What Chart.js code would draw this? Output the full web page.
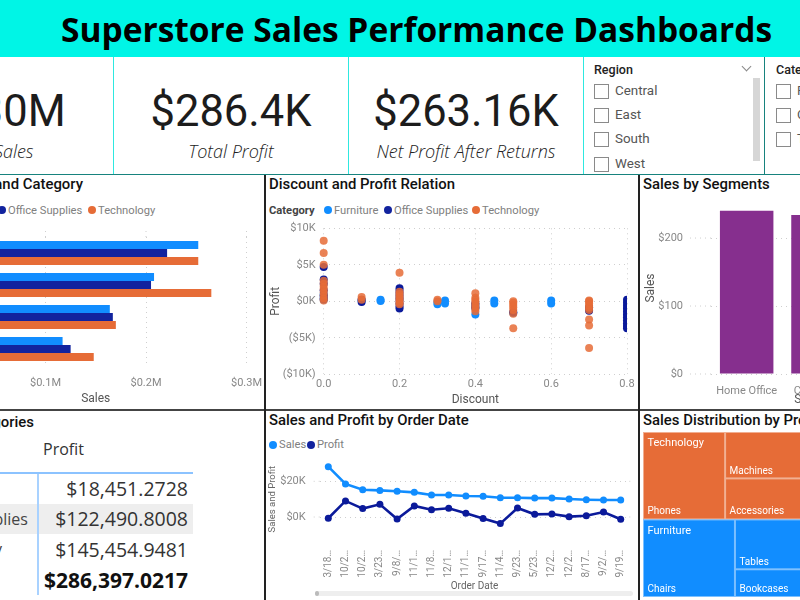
<!DOCTYPE html>
<html>
<head>
<meta charset="utf-8">
<script src="https://cdn.jsdelivr.net/npm/chart.js@4"></script>
<style>
html, body { margin: 0; padding: 0; background: #fff; }
#page { position: relative; width: 800px; height: 600px; overflow: hidden; background: #fff; font-family: Roboto, sans-serif; }
#page div, #page canvas, #page table { position: absolute; }
#page div { white-space: nowrap; }
.rule { background: #222; }
.cy { background: #2ee8e0; }
.title { font-size: 14.9px; font-weight: 500; color: #111; line-height: 18px; }
.kpi { font-size: 43.5px; color: #1c1c1c; line-height: 50px; text-align: center; }
.kpiLabel { font-family: "Open Sans", sans-serif; font-style: italic; font-weight: 300; font-size: 18px; color: #222; line-height: 22px; text-align: center; }
.dot { border-radius: 50%; width: 8px; height: 8px; }
.lg { font-size: 11.2px; color: #808080; line-height: 14px; }
.box { width: 13px; height: 13px; border: 1px solid #8a8a8a; }
.sl { font-size: 13.4px; color: #555; line-height: 18px; }
table { border-collapse: collapse; font-family: "Open Sans", sans-serif; }
td { padding: 0; height: 30.3px; }
td.n { font-size: 16px; color: #444; width: 120px; padding-left: 0; }
td.v { font-size: 19.5px; color: #333; width: 149px; text-align: right; padding-right: 5px; border-left: 2px solid #a9d2ff; }
</style>
</head>
<body>
<div id="page"></div>
<script>
// values
const categories = ['Furniture', 'Office Supplies', 'Technology'];
const catColors = ['#118DFF', '#12239E', '#E66C37'];

// sales by region and category (in $M)
const regions = ['West', 'East', 'Central', 'South'];
const furnitureSales = [0.252, 0.208, 0.164, 0.117];
const officeSales = [0.221, 0.205, 0.167, 0.125];
const techSales = [0.252, 0.265, 0.170, 0.148];
const salesTicks = [0, 0.1, 0.2, 0.3];

// discount / profit scatter
const furnDiscount = [0, 0, 0, 0.1, 0.15, 0.15, 0.3, 0.3, 0.32, 0.32, 0.4, 0.4, 0.4, 0.45, 0.45, 0.5, 0.6, 0.6];
const furnProfit = [200, 600, 1000, 100, 50, 200, -100, -400, 100, -300, -500, -1000, -1800, 100, -300, -1600, 100, -300];
const officeDiscount = [0, 0, 0, 0, 0, 0, 0.1, 0.1, 0.2, 0.2, 0.2, 0.2, 0.2, 0.2, 0.2, 0.2, 0.4, 0.4, 0.5, 0.7, 0.7, 0.8, 0.8, 0.8, 0.8, 0.8, 0.8, 0.8, 0.8, 0.8, 0.8, 0.8];
const officeProfit = [4700, 3000, 2400, 1500, 800, 300, -100, 200, 1800, 1400, 1000, 600, 200, -300, -700, -1000, -300, -800, -1500, -800, -1300, 200, -200, -600, -1000, -1400, -1800, -2200, -2600, -3000, -3400, -3700];
const techDiscount = [0, 0, 0, 0, 0, 0, 0, 0, 0, 0, 0, 0.1, 0.1, 0.2, 0.2, 0.2, 0.2, 0.2, 0.2, 0.2, 0.2, 0.3, 0.3, 0.4, 0.4, 0.4, 0.4, 0.4, 0.4, 0.4, 0.4, 0.5, 0.5, 0.5, 0.5, 0.5, 0.5, 0.5, 0.7, 0.7, 0.7, 0.7, 0.7, 0.7, 0.7, 0.7, 0.7];
const techProfit = [8300, 6600, 5000, 2800, 2400, 2000, 1600, 1200, 800, 400, 100, 600, 200, 3900, 1300, 1000, 700, 400, 100, -200, -400, 200, 0, 1100, 500, 200, -100, -400, -700, -1000, -1350, -3700, -1700, -1200, -800, -500, -200, 0, -6400, -3300, -2500, -1200, -900, -600, -300, 0, 100];
const profitTicks = [-10000, -5000, 0, 5000, 10000];

// sales by segment
const segments = ['Home Office', 'Corporate', 'Consumer'];
const segmentSales = [240, 234, 228];
const segmentTicks = [0, 100, 200];

// sales and profit by order date
const orderDates = ['3/18…', '10/2…', '10/2…', '3/23…', '9/8/…', '11/1…', '11/8…', '12/1…', '11/1…', '9/17…', '11/4…', '9/23…', '5/23…', '12/2…', '12/2…', '8/17…', '9/2/…', '9/19…'];
const dateSales = [28200, 18500, 15300, 14900, 14400, 13800, 12300, 12300, 11800, 11600, 10800, 10800, 10600, 10600, 10100, 9700, 9500, 9500];
const dateProfit = [-700, 9000, 4700, 7100, -1100, 6200, 4100, 4900, 2100, -900, -3700, 5000, 1500, 1700, 200, 700, 2800, -1300];

// treemap ($K)
const treeGroups = ['Technology', 'Furniture'];
const techTiles = ['Phones', 'Machines', 'Accessories', 'Copiers'];
const techTileValues = [330, 189, 167, 150];
const furnTiles = ['Chairs', 'Tables', 'Bookcases', 'Furnishings'];
const furnTileValues = [328, 207, 115, 92];

// table
const tableRows = ['Furniture', 'Office Supplies', 'Technology'];
const tableProfit = ['$18,451.2728', '$122,490.8008', '$145,454.9481'];
const tableTotal = '$286,397.0217';

// cards and slicers
const kpiValues = ['$2.30M', '$286.4K', '$263.16K'];
const kpiLabels = ['Total Sales', 'Total Profit', 'Net Profit After Returns'];
const regionItems = ['Central', 'East', 'South', 'West'];

Chart.defaults.font.family = 'Roboto, sans-serif';
Chart.defaults.animation = false;
Chart.defaults.responsive = false;

const page = document.getElementById('page');

function put(cls, text, css) {
  const d = document.createElement('div');
  d.className = cls;
  if (text) d.textContent = text;
  d.style.cssText = css;
  page.appendChild(d);
  return d;
}

function canvas(left, top, w, h) {
  const c = document.createElement('canvas');
  c.width = w; c.height = h;
  c.style.cssText = `left:${left}px;top:${top}px;width:${w}px;height:${h}px;`;
  page.appendChild(c);
  return c;
}

function legend(items, colors, y) {
  items.forEach((it, i) => {
    put('dot', '', `left:${it[0]}px;top:${y - 4}px;background:${colors[i]};`);
    put('lg', it[1], `left:${it[0] + 10}px;top:${y - 6.5}px;`);
  });
}

const gridColor = '#cfcfcf';
const tickGray = '#888';
const dotted = { color: gridColor, drawTicks: false };
const noGridBorder = { display: false, dash: [1, 4] };
const hidden = { display: false };
const tickFont = { size: 11 };
const axisTitle = (text, pad) => ({ display: true, text, color: '#555', font: { size: 12 }, padding: pad });
// tick labels shouldn't push the plot area around
const noScalePad = s => { s.paddingLeft = 0; s.paddingRight = 0; s.paddingTop = 0; s.paddingBottom = 0; };

// dotted grid lines in Power BI run a bit past the plot area
const extendGrid = {
  id: 'extendGrid',
  beforeDatasetsDraw(chart, args, opts) {
    const a = chart.chartArea, ctx = chart.ctx;
    ctx.save();
    ctx.strokeStyle = gridColor;
    ctx.setLineDash([1, 4]);
    ctx.beginPath();
    chart.scales[opts.axis].ticks.forEach(t => {
      const p = chart.scales[opts.axis].getPixelForValue(t.value);
      if (opts.axis === 'x') { ctx.moveTo(p, a.top); ctx.lineTo(p, a.top - opts.before); }
      else { ctx.moveTo(a.left, p); ctx.lineTo(a.left - opts.before, p); ctx.moveTo(a.right, p); ctx.lineTo(a.right + opts.after, p); }
    });
    ctx.stroke();
    ctx.restore();
  }
};

// panel frame
put('', '', 'left:0;top:0;width:800px;height:57px;background:#00F5E6;');
put('', 'Superstore Sales Performance Dashboards', 'left:61px;top:6px;font-family:"Open Sans",sans-serif;font-weight:700;font-size:33.5px;line-height:46px;color:#000;');
put('rule', '', 'left:0;top:174px;width:800px;height:1px;background:#17837e;');
put('rule', '', 'left:0;top:409px;width:800px;height:1.5px;background:#444;');
put('rule', '', 'left:264px;top:175px;width:1.5px;height:425px;');
put('rule', '', 'left:638px;top:175px;width:1.5px;height:425px;');
[113, 348, 583].forEach(x => put('cy', '', `left:${x}px;top:57px;width:1.2px;height:117px;`));
put('rule', '', 'left:764px;top:57px;width:1.2px;height:117px;background:#17837e;');

// KPI cards
const kpiBoxes = [[-125, 234], [114, 234], [349, 234]];
kpiValues.forEach((v, i) => {
  put('kpi', v, `left:${kpiBoxes[i][0]}px;width:${kpiBoxes[i][1]}px;top:87px;`);
  put('kpiLabel', kpiLabels[i], `left:${kpiBoxes[i][0]}px;width:${kpiBoxes[i][1]}px;top:140px;`);
});

// slicers
put('', 'Region', 'left:594px;top:62px;font-size:12.5px;font-weight:500;color:#222;line-height:15px;');
put('', 'Category', 'left:776px;top:62px;font-size:12.5px;font-weight:500;color:#222;line-height:15px;');
put('', '', 'left:743px;top:63px;width:6px;height:6px;border-right:1px solid #888;border-bottom:1px solid #888;transform:rotate(45deg);');
put('', '', 'left:753px;top:78px;width:7px;height:83px;background:#d6d6d6;');
regionItems.forEach((t, i) => {
  const y = [91, 115, 139, 164][i];
  put('box', '', `left:594px;top:${y - 7}px;`);
  put('sl', t, `left:615px;top:${y - 9}px;`);
});
categories.forEach((t, i) => {
  const y = [91, 115, 139][i];
  put('box', '', `left:776px;top:${y - 7}px;`);
  put('sl', t, `left:797px;top:${y - 9}px;`);
});

// panel titles and legends
put('title', 'Sales by Region and Category', 'right:717px;top:175px;');
put('title', 'Discount and Profit Relation', 'left:269px;top:175px;');
put('title', 'Sales by Segments', 'left:643px;top:175px;');
put('title', 'Sales and Profit by Order Date', 'left:269px;top:411px;');
put('title', 'Sales Distribution by Product', 'left:643px;top:411px;');
put('title', 'Profit by Categories', 'right:766px;top:413px;');

legend([[-84, categories[0]], [-2, categories[1]], [88, categories[2]]], catColors, 210);
put('lg', 'Category', 'left:269px;top:203.5px;font-weight:700;color:#444;');
legend([[324, categories[0]], [384, categories[1]], [472, categories[2]]], catColors, 210);
legend([[269, 'Sales'], [307, 'Profit']], ['#118DFF', '#12239E'], 444.5);
put('', '', 'left:315px;top:591px;width:318px;height:5px;background:#eee;border-radius:3px;');
put('', '', 'left:315px;top:591px;width:4px;height:5px;background:#bbb;border-radius:2px;');

// sales by region and category
new Chart(canvas(-100, 176, 363, 233), {
  type: 'bar',
  data: {
    labels: regions,
    datasets: [
      { label: categories[0], data: furnitureSales, backgroundColor: catColors[0] },
      { label: categories[1], data: officeSales, backgroundColor: catColors[1] },
      { label: categories[2], data: techSales, backgroundColor: catColors[2] }
    ]
  },
  plugins: [extendGrid],
  options: {
    indexAxis: 'y',
    layout: { padding: { top: 61, right: 16.5 } },
    datasets: { bar: { categoryPercentage: 0.75, barPercentage: 1 } },
    plugins: { legend: hidden, tooltip: hidden, extendGrid: { axis: 'x', before: 9 } },
    scales: {
      x: {
        min: 0, max: 0.3,
        afterBuildTicks: s => { s.ticks = salesTicks.map(value => ({ value })); },
        afterFit: s => { s.height = 44; noScalePad(s); },
        grid: dotted, border: noGridBorder,
        ticks: { color: tickGray, font: tickFont, padding: 12, maxRotation: 0, callback: v => v === 0 ? '' : '$' + v.toFixed(1) + 'M' },
        title: axisTitle('Sales', { top: 0, bottom: 3 })
      },
      y: {
        afterFit: s => { s.width = 45; noScalePad(s); },
        grid: { display: false }, border: hidden,
        ticks: { color: tickGray, font: tickFont }
      }
    }
  }
});

// discount and profit
const pts = (xs, ys) => xs.map((x, i) => ({ x, y: ys[i] }));
new Chart(canvas(265, 176, 373, 233), {
  type: 'scatter',
  data: {
    datasets: [
      { label: categories[0], data: pts(furnDiscount, furnProfit), backgroundColor: catColors[0], order: 2 },
      { label: categories[1], data: pts(officeDiscount, officeProfit), backgroundColor: '#0B1A9A', order: 1 },
      { label: categories[2], data: pts(techDiscount, techProfit), backgroundColor: 'rgba(230,108,55,0.85)', order: 0 }
    ]
  },
  options: {
    layout: { padding: { top: 52.3, right: 11 } },
    datasets: { scatter: { pointRadius: 4, pointBorderWidth: 0, clip: { left: 8, top: 8, right: 0, bottom: 8 } } },
    plugins: { legend: hidden, tooltip: hidden },
    scales: {
      x: {
        min: 0, max: 0.8,
        afterFit: s => { s.height = 34.7; noScalePad(s); },
        grid: dotted, border: noGridBorder,
        ticks: { stepSize: 0.2, color: tickGray, font: tickFont, padding: 3, maxRotation: 0, callback: v => v.toFixed(1) },
        title: axisTitle('Discount', { top: 0, bottom: 2 })
      },
      y: {
        min: -10000, max: 10000,
        afterFit: s => { s.width = 58.7; noScalePad(s); },
        afterBuildTicks: s => { s.ticks = profitTicks.map(value => ({ value })); },
        grid: dotted, border: noGridBorder,
        ticks: { color: tickGray, font: tickFont, padding: 8, callback: v => v < 0 ? '($' + (-v / 1000) + 'K)' : '$' + (v / 1000) + 'K' },
        title: axisTitle('Profit', { top: 4, bottom: 0 })
      }
    }
  }
});

// sales by segment
new Chart(canvas(640, 176, 300, 233), {
  type: 'bar',
  data: { labels: segments, datasets: [{ label: 'Sales', data: segmentSales, backgroundColor: '#862F8E', categoryPercentage: 0.75, barPercentage: 1 }] },
  plugins: [extendGrid],
  options: {
    layout: { padding: { top: 26, right: 15 } },
    plugins: { legend: hidden, tooltip: hidden, extendGrid: { axis: 'y', before: 21, after: 0 } },
    scales: {
      x: {
        afterFit: s => { s.height = 35; noScalePad(s); },
        grid: { display: false }, border: hidden,
        ticks: { color: tickGray, font: tickFont, padding: 3, maxRotation: 0 },
        title: axisTitle('Segment', { top: 0, bottom: 2 })
      },
      y: {
        min: 0, max: 253,
        afterFit: s => { s.width = 71; noScalePad(s); },
        afterBuildTicks: s => { s.ticks = segmentTicks.map(value => ({ value })); },
        ticks: { color: tickGray, font: tickFont, padding: 28, callback: v => '$' + v },
        grid: dotted, border: noGridBorder,
        title: axisTitle('Sales', { top: 4, bottom: 0 })
      }
    }
  }
});

// sales and profit by order date
new Chart(canvas(265, 410, 373, 190), {
  type: 'line',
  data: {
    labels: orderDates,
    datasets: [
      { label: 'Sales', data: dateSales, borderColor: '#118DFF', backgroundColor: '#118DFF', order: 1 },
      { label: 'Profit', data: dateProfit, borderColor: '#0B1A9A', backgroundColor: '#0B1A9A', order: 0 }
    ]
  },
  plugins: [extendGrid],
  options: {
    layout: { padding: { top: 53.45, right: 8.7 } },
    datasets: { line: { borderWidth: 2.6, pointRadius: 3.5, pointBorderWidth: 0, tension: 0, clip: false } },
    plugins: { legend: hidden, tooltip: hidden, extendGrid: { axis: 'y', before: 6, after: 4 } },
    scales: {
      x: {
        offset: true,
        afterFit: s => { s.height = 65.15; noScalePad(s); },
        grid: { display: false }, border: hidden,
        ticks: { color: tickGray, font: { size: 10 }, padding: 7, autoSkip: false, minRotation: 90, maxRotation: 90 },
        title: { display: true, text: 'Order Date', color: '#666', font: { size: 10 }, padding: { top: 0, bottom: 8 } }
      },
      y: {
        min: -10000, max: 30000,
        afterFit: s => { s.width = 54.7; noScalePad(s); },
        afterBuildTicks: s => { s.ticks = [{ value: 0 }, { value: 20000 }]; },
        grid: dotted, border: noGridBorder,
        ticks: { color: tickGray, font: tickFont, padding: 14, callback: v => '$' + (v / 1000) + 'K' },
        title: { display: true, text: 'Sales and Profit', color: '#666', font: { size: 9.5 }, padding: { top: 2, bottom: 0 } }
      }
    }
  }
});

// treemap: no treemap type in plain Chart.js, so a small plugin lays out tiles on linear scales
const sum = a => a.reduce((p, c) => p + c, 0);
const treemap = {
  id: 'treemap',
  afterDraw(chart) {
    const ctx = chart.ctx, sx = chart.scales.x, sy = chart.scales.y;
    const tile = (x0, x1, y0, y1, color) => {
      const l = sx.getPixelForValue(x0), r = sx.getPixelForValue(x1), t = sy.getPixelForValue(y0), b = sy.getPixelForValue(y1);
      ctx.fillStyle = color;
      ctx.fillRect(l, t, r - l, b - t);
      ctx.strokeStyle = 'rgba(255,255,255,0.45)';
      ctx.lineWidth = 1;
      ctx.strokeRect(l + 0.5, t + 0.5, r - l - 1, b - t - 1);
      return { l, r, t, b };
    };
    const text = (s, x, y, size) => {
      ctx.fillStyle = '#fff';
      ctx.font = size + 'px Roboto, sans-serif';
      ctx.textBaseline = 'middle';
      ctx.fillText(s, x, y);
    };
    let top = 0;
    [[techTiles, techTileValues, catColors[2]], [furnTiles, furnTileValues, catColors[0]]].forEach((g, gi) => {
      const [names, vals, color] = g, total = sum(vals), mid = vals[1] + vals[2];
      const x1 = vals[0] / total, x2 = x1 + mid / total;
      const a = tile(0, x1, top, top + total, color);
      text(treeGroups[gi], a.l + 4.5, a.t + 11.5, 11);
      text(names[0], a.l + 4.5, a.b - 7.5, 10);
      const yMid = top + total * vals[1] / mid;
      const b = tile(x1, x2, top, yMid, color);
      text(names[1], b.l + 4.5, b.b - 7, 10);
      const c = tile(x1, x2, yMid, top + total, color);
      text(names[2], c.l + 4.5, c.b - 7.5, 10);
      tile(x2, 1, top, top + total, color);
      top += total;
    });
  }
};
new Chart(canvas(643, 432, 208, 165), {
  type: 'scatter',
  data: { datasets: [] },
  plugins: [treemap],
  options: {
    layout: { padding: 0 },
    plugins: { legend: hidden, tooltip: hidden },
    scales: {
      x: { display: false, min: 0, max: 1 },
      y: { display: false, reverse: true, min: 0, max: sum(techTileValues) + sum(furnTileValues) }
    }
  }
});

// table visual
const tb = document.createElement('table');
tb.style.cssText = 'left:-83px;top:473.5px;';
tableRows.forEach((r, i) => {
  const tr = tb.insertRow();
  if (i === 1) tr.style.background = '#eeeeee';
  const a = tr.insertCell(), b = tr.insertCell();
  a.className = 'n'; b.className = 'v';
  a.textContent = r; b.textContent = tableProfit[i];
});
const ft = tb.insertRow();
const fa = ft.insertCell(), fb = ft.insertCell();
fa.className = 'n'; fb.className = 'v';
fa.textContent = 'Total'; fa.style.fontWeight = '700';
fb.textContent = tableTotal; fb.style.fontWeight = '700'; fb.style.fontSize = '21px'; fb.style.color = '#111';
page.appendChild(tb);
put('', 'Profit', 'left:43px;top:438px;font-family:"Open Sans",sans-serif;font-size:16px;color:#333;line-height:22px;');
put('', '', 'left:-83px;top:472px;width:276px;height:1.5px;background:#8cc3ff;');
</script>
</body>
</html>
